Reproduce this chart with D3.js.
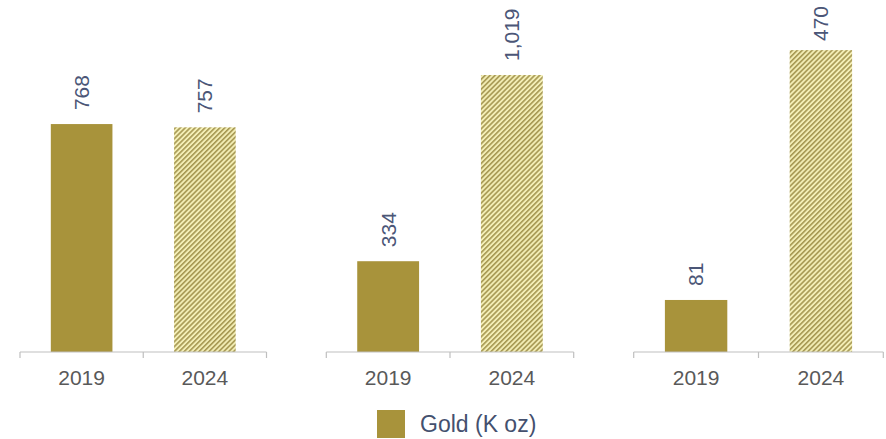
<!DOCTYPE html>
<html><head><meta charset="utf-8">
<script src="https://cdn.jsdelivr.net/npm/d3@7"></script>
<style>html,body{margin:0;padding:0;background:#fff}svg{display:block}</style>
</head><body>
<svg id="c" width="886" height="439"></svg>
<script>
const categories = ["2019", "2024"];
const values2019 = [768, 334, 81];
const values2024 = [757, 1019, 470];
const panelMax = [1186, 1295, 548];
const legendLabel = "Gold (K oz)";

const svg = d3.select("#c");
const font = "'Liberation Sans', Arial, sans-serif";
const gold = "#A8933B";
const panels = [[20, 266.5], [326.3, 573.7], [633.7, 883.3]];
const baseY = 352;

const defs = svg.append("defs");
const pat = defs.append("pattern").attr("id", "hatch").attr("patternUnits", "userSpaceOnUse")
  .attr("width", 3.5).attr("height", 4).attr("patternTransform", "rotate(45)");
pat.append("rect").attr("width", 3.5).attr("height", 4).attr("fill", "#F3EEB6");
pat.append("rect").attr("width", 1.6).attr("height", 4).attr("fill", "#A69852");

const fmt = d3.format(",");

panels.forEach((p, i) => {
  const x = d3.scaleBand().domain(categories).range(p).paddingInner(0.5).paddingOuter(0.25);
  const y = d3.scaleLinear().domain([0, panelMax[i]]).range([baseY, 0]);
  const vals = [values2019[i], values2024[i]];
  const g = svg.append("g");
  g.selectAll("rect.bar").data(categories).join("rect").attr("class", "bar")
    .attr("x", d => x(d)).attr("width", x.bandwidth())
    .attr("y", (d, j) => y(vals[j])).attr("height", (d, j) => baseY - y(vals[j]))
    .attr("fill", (d, j) => j === 0 ? gold : "url(#hatch)");
  // axis
  const ax = g.append("g").attr("transform", `translate(0,${baseY})`);
  ax.append("line").attr("x1", p[0]).attr("x2", p[1]).attr("stroke", "#BFBFBF").attr("stroke-width", 1.2);
  const tickXs = [p[0], (p[0] + p[1]) / 2, p[1]];
  ax.selectAll("line.tk").data(tickXs).join("line").attr("class", "tk")
    .attr("x1", d => d).attr("x2", d => d).attr("y1", 0).attr("y2", 6)
    .attr("stroke", "#BFBFBF").attr("stroke-width", 1.2);
  ax.selectAll("text").data(categories).join("text")
    .attr("x", d => x(d) + x.bandwidth() / 2).attr("y", 33)
    .attr("text-anchor", "middle").attr("font-family", font).attr("font-size", 21)
    .attr("fill", "#595959").text(d => d);
  // value labels
  const labels = g.selectAll("text.val").data(categories).join("text").attr("class", "val")
    .attr("dy", "0.35em").attr("text-anchor", "start")
    .attr("font-family", font).attr("font-size", 21).attr("fill", "#4B5677")
    .text((d, j) => fmt(vals[j]));
  labels.each(function (d, j) {
    const len = this.getComputedTextLength();
    const start = Math.max(y(vals[j]) - 14, 6 + len);
    d3.select(this).attr("transform", `translate(${x(d) + x.bandwidth() / 2},${start}) rotate(-90)`);
  });
});

// legend
const lg = svg.append("g");
lg.append("rect").attr("x", 377).attr("y", 410).attr("width", 28).attr("height", 28).attr("fill", gold);
lg.append("text").attr("x", 420).attr("y", 432).attr("font-family", font).attr("font-size", 23)
  .attr("fill", "#44506E").text(legendLabel);
</script>
</body></html>
